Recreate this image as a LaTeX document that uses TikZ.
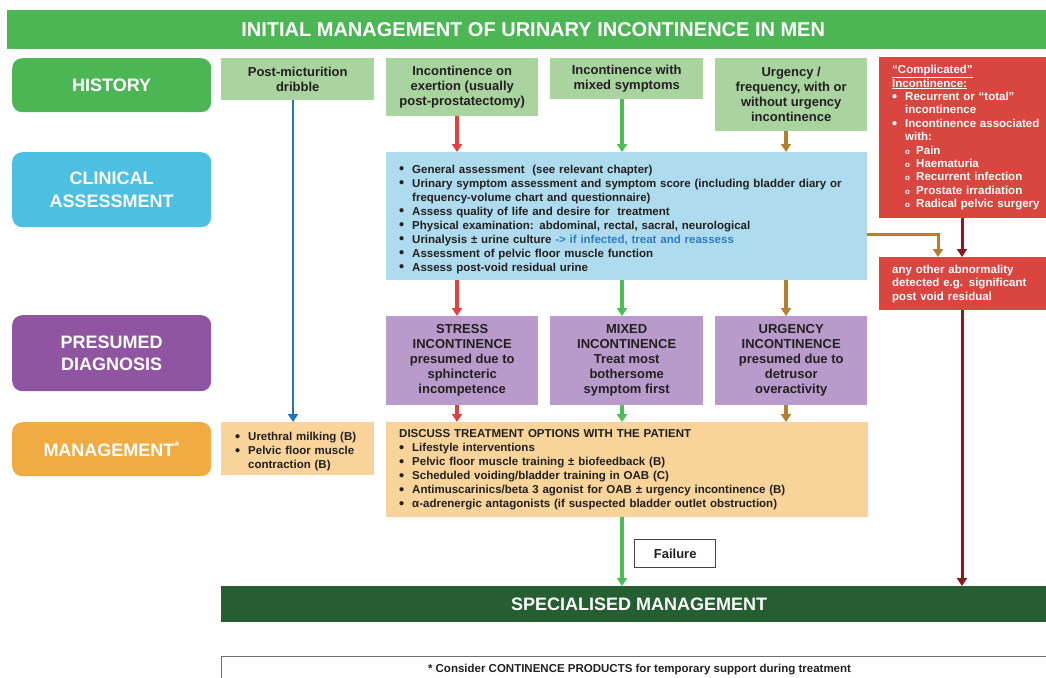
\documentclass[tikz,border=0pt]{standalone}
\usepackage{fontspec}
\setmainfont{Liberation Sans}
\usetikzlibrary{arrows.meta}
\definecolor{gtitle}{RGB}{77,182,84}
\definecolor{lgreen}{RGB}{169,212,160}
\definecolor{clab}{RGB}{77,191,224}
\definecolor{lblue}{RGB}{174,220,238}
\definecolor{plab}{RGB}{143,85,161}
\definecolor{lpurple}{RGB}{185,155,203}
\definecolor{olab}{RGB}{240,172,66}
\definecolor{lorange}{RGB}{248,212,154}
\definecolor{redbox}{RGB}{217,69,63}
\definecolor{dkgreen}{RGB}{36,94,49}
\definecolor{txt}{RGB}{35,31,32}
\definecolor{linkblue}{RGB}{46,124,196}
\definecolor{arrblue}{RGB}{28,117,188}
\definecolor{arrred}{RGB}{224,64,63}
\definecolor{arrgreen}{RGB}{77,189,85}
\definecolor{arrbrown}{RGB}{183,127,43}
\definecolor{arrdkred}{RGB}{139,26,26}
\definecolor{failgray}{RGB}{70,70,70}
\definecolor{footgray}{RGB}{110,110,110}
\newcommand\bdot{\raisebox{-0.9pt}[0pt][0pt]{\fontsize{14.5}{14}\selectfont•}}
\newcommand\bitem[1]{\par\hangindent=13pt\hangafter=1\noindent\makebox[13pt][l]{\bdot}#1\par}
\newcommand\sitem[1]{\par\hangindent=24pt\hangafter=1\noindent\hspace*{13pt}\makebox[11pt][l]{\fontsize{8}{8}\selectfont o}#1\par}
\begin{document}
\begin{tikzpicture}[x=1pt,y=-1pt,
  lab/.style={rounded corners=10pt, fill=#1, text=white, font=\fontsize{18}{22.5}\selectfont\bfseries,
    minimum width=199pt, align=center, anchor=north west, inner sep=0pt},
  cbox/.style={fill=#1, text=txt, font=\fontsize{13}{15}\selectfont\bfseries,
    align=center, anchor=north west, inner sep=0pt},
  lbox/.style={fill=#1, text=txt, font=\fontsize{11.5}{14}\selectfont\bfseries,
    align=left, anchor=north west, inner xsep=13pt, inner ysep=0pt},
  arr/.style={line width=3.2pt, draw=#1, -{Triangle[width=10pt,length=8pt]}},
  bar/.style={fill=#1, text=white, font=\fontsize{18}{20}\selectfont\bfseries,
    anchor=north west, inner sep=0pt}
]
\useasboundingbox (0,0) rectangle (1046,677);

% title
\node[bar=gtitle, minimum width=1052pt, minimum height=39pt, font=\fontsize{20}{20}\selectfont\bfseries] (title) at (7,10)
  {INITIAL MANAGEMENT OF URINARY INCONTINENCE IN MEN};

% left labels
\node[lab=gtitle, minimum height=54pt] (hist) at (12,58) {HISTORY};
\node[lab=clab, minimum height=75pt] (clinl) at (12,152) {CLINICAL\\ASSESSMENT};
\node[lab=plab, minimum height=76pt] (presl) at (12,315) {PRESUMED\\DIAGNOSIS};
\node[lab=olab, minimum height=54pt] (mgmtl) at (12,422) {MANAGEMENT\textsuperscript{*}};

% history boxes
\node[cbox=lgreen, minimum width=153pt, minimum height=42pt] (post) at (221,58) {Post-micturition\\dribble};
\node[cbox=lgreen, minimum width=152pt, minimum height=58pt] (exert) at (386,58) {Incontinence on\\exertion (usually\\post-prostatectomy)};
\node[cbox=lgreen, minimum width=153pt, minimum height=41pt] (mixed) at (550,58) {Incontinence with\\mixed symptoms};
\node[cbox=lgreen, minimum width=152pt, minimum height=73pt] (urg) at (715,58) {Urgency /\\frequency, with or\\without urgency\\incontinence};

\node[lbox=redbox, text=white, font=\fontsize{11.5}{13.4}\selectfont\bfseries, minimum width=180pt, minimum height=161pt, text width=154pt] (comp) at (879,57)
  {\underline{“Complicated”}\par\noindent\underline{Incontinence:}
   \bitem{Recurrent or “total”\newline incontinence}
   \bitem{Incontinence associated\newline with:}
   \sitem{Pain}
   \sitem{Haematuria}
   \sitem{Recurrent infection}
   \sitem{Prostate irradiation}
   \sitem{Radical pelvic surgery}};

% clinical assessment
\node[lbox=lblue, minimum width=481pt, minimum height=128pt, text width=455pt] (clin) at (386,152)
  {\bitem{General assessment~ (see relevant chapter)}
   \bitem{Urinary symptom assessment and symptom score (including bladder diary or\newline frequency-volume chart and questionnaire)}
   \bitem{Assess quality of life and desire for~ treatment}
   \bitem{Physical examination: abdominal, rectal, sacral, neurological}
   \bitem{Urinalysis ± urine culture \textcolor{linkblue}{-> if infected, treat and reassess}}
   \bitem{Assessment of pelvic floor muscle function}
   \bitem{Assess post-void residual urine}};

\node[lbox=redbox, text=white, font=\fontsize{11.5}{13.5}\selectfont\bfseries, minimum width=180pt, minimum height=53pt, text width=154pt] (other) at (879,257)
  {any other abnormality\newline detected e.g. significant\newline post void residual};

% presumed diagnosis
\node[cbox=lpurple, minimum width=152pt, minimum height=89pt] (dxs) at (386,316) {STRESS\\INCONTINENCE\\presumed due to\\sphincteric\\incompetence};
\node[cbox=lpurple, minimum width=153pt, minimum height=89pt] (dxm) at (550,316) {MIXED\\INCONTINENCE\\Treat most\\bothersome\\symptom first};
\node[cbox=lpurple, minimum width=152pt, minimum height=89pt] (dxu) at (715,316) {URGENCY\\INCONTINENCE\\presumed due to\\detrusor\\overactivity};

% management
\node[lbox=lorange, inner xsep=14pt, minimum width=153pt, minimum height=53pt, text width=125pt] (mgl) at (221,422)
  {\bitem{Urethral milking (B)}
   \bitem{Pelvic floor muscle\newline contraction (B)}};
\node[lbox=lorange, minimum width=482pt, minimum height=95pt, text width=456pt] (mgr) at (386,422)
  {DISCUSS TREATMENT OPTIONS WITH THE PATIENT
   \bitem{Lifestyle interventions}
   \bitem{Pelvic floor muscle training ± biofeedback (B)}
   \bitem{Scheduled voiding/bladder training in OAB (C)}
   \bitem{Antimuscarinics/beta 3 agonist for OAB ± urgency incontinence (B)}
   \bitem{α-adrenergic antagonists (if suspected bladder outlet obstruction)}};

\node[draw=failgray, line width=1.4pt, fill=white, text=txt, font=\fontsize{13}{15}\selectfont\bfseries,
  anchor=north west, inner sep=0pt, minimum width=81pt, minimum height=28pt] (fail) at (634,539) {Failure};

\node[bar=dkgreen, minimum width=836pt, minimum height=36pt] (spec) at (221,586) {SPECIALISED MANAGEMENT};

\node[draw=footgray, line width=1pt, text=txt, font=\fontsize{11.5}{14}\selectfont\bfseries,
  anchor=north west, inner sep=0pt, minimum width=836pt, minimum height=26pt] (foot) at (221,656)
  {* Consider CONTINENCE PRODUCTS for temporary support during treatment};

% column x positions
\coordinate (xb) at (293,0);
\coordinate (xr) at (457,0);
\coordinate (xg) at (622,0);
\coordinate (xo) at (786,0);
\coordinate (xe) at (938,0);
\coordinate (xd) at (962,0);
\coordinate (ye) at (0,234);

% connectors
\draw[arr=arrblue, line width=2.4pt] (post.south -| xb) -- (mgl.north -| xb);

\draw[arr=arrred] (exert.south -| xr) -- (clin.north -| xr);
\draw[arr=arrred] (clin.south -| xr) -- (dxs.north -| xr);
\draw[arr=arrred] (dxs.south -| xr) -- (mgr.north -| xr);

\draw[arr=arrgreen] (mixed.south -| xg) -- (clin.north -| xg);
\draw[arr=arrgreen] (clin.south -| xg) -- (dxm.north -| xg);
\draw[arr=arrgreen] (dxm.south -| xg) -- (mgr.north -| xg);
\draw[arr=arrgreen] (mgr.south -| xg) -- (spec.north -| xg);

\draw[arr=arrbrown] (urg.south -| xo) -- (clin.north -| xo);
\draw[arr=arrbrown] (clin.south -| xo) -- (dxu.north -| xo);
\draw[arr=arrbrown] (dxu.south -| xo) -- (mgr.north -| xo);
\draw[arr=arrbrown, line width=3pt] (clin.east |- ye) -| (other.north -| xe);

\draw[arr=arrdkred, line width=3pt] (comp.south -| xd) -- (other.north -| xd);
\draw[arr=arrdkred, line width=3pt] (other.south -| xd) -- (spec.north -| xd);
\end{tikzpicture}
\end{document}
